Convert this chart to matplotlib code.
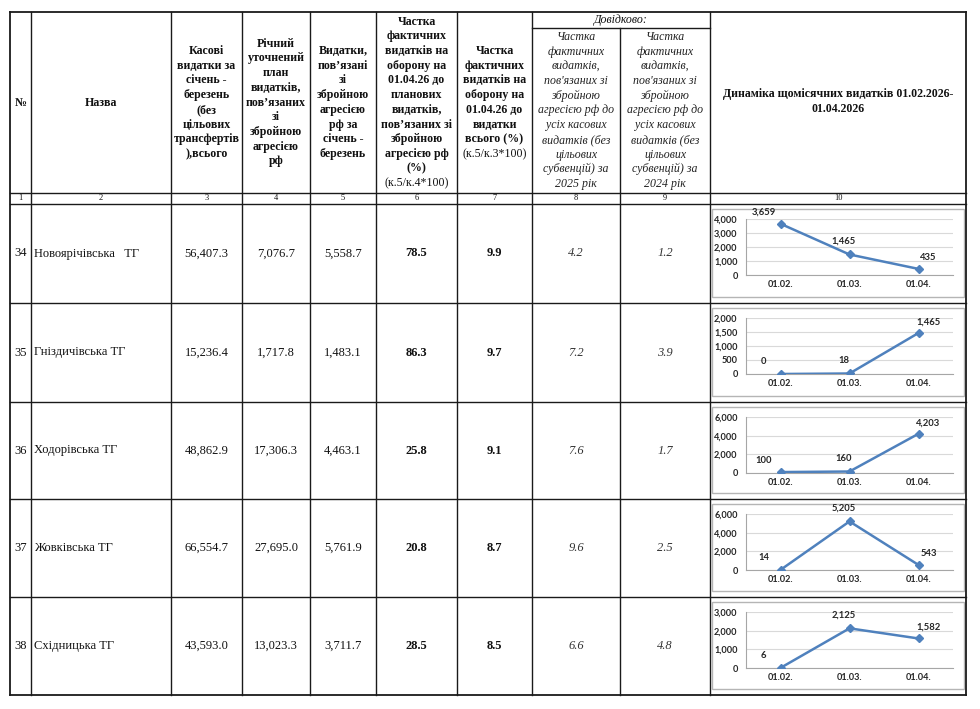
import matplotlib.pyplot as plt
from matplotlib.patches import Rectangle
from matplotlib.ticker import FuncFormatter, MultipleLocator

# дані таблиці
nums = ['34', '35', '36', '37', '38']
names = ['Новоярічівська   ТГ', 'Гніздичівська ТГ', 'Ходорівська ТГ', 'Жовківська ТГ', 'Східницька ТГ']
kasovi = [56407.3, 15236.4, 48862.9, 66554.7, 43593.0]
plan_oborona = [7076.7, 1717.8, 17306.3, 27695.0, 13023.3]
vydatky_oborona = [5558.7, 1483.1, 4463.1, 5761.9, 3711.7]
chastka_plan = [78.5, 86.3, 25.8, 20.8, 28.5]
chastka_vsogo = [9.9, 9.7, 9.1, 8.7, 8.5]
chastka_2025 = [4.2, 7.2, 7.6, 9.6, 6.6]
chastka_2024 = [1.2, 3.9, 1.7, 2.5, 4.8]

# щомісячні видатки для графіків
months = ['01.02.', '01.03.', '01.04.']
monthly = [
    [3659, 1465, 435],
    [0, 18, 1465],
    [100, 160, 4203],
    [14, 5205, 543],
    [6, 2125, 1582],
]
y_max = [4000, 2000, 6000, 6000, 3000]
y_step = [1000, 500, 2000, 2000, 1000]

W, H = 980, 709
col_x = [10, 31, 171, 242, 310, 376, 457, 532, 620, 710, 966]
row_y = [12, 193, 204, 303, 402, 499, 597, 695]
dovid_y = 28
SERIF = 'Liberation Serif'
LINE = '#4f81bd'
HDR = 8.6

fig = plt.figure(figsize=(W / 100, H / 100), dpi=100)
ax = fig.add_axes([0, 0, 1, 1])
ax.set_xlim(0, W)
ax.set_ylim(H, 0)
ax.axis('off')

# сітка таблиці
for y in row_y:
    lw = 1.3 if y in (row_y[0], row_y[-1]) else 1.0
    ax.plot([col_x[0], col_x[-1]], [y, y], color='#1a1a1a', lw=lw)
ax.plot([col_x[7], col_x[9]], [dovid_y, dovid_y], color='#1a1a1a', lw=1.0)
for i, x in enumerate(col_x):
    lw = 1.3 if i in (0, len(col_x) - 1) else 1.0
    top = dovid_y if i == 8 else row_y[0]
    ax.plot([x, x], [top, row_y[-1]], color='#1a1a1a', lw=lw)


def put_lines(x, yc, lines, size=HDR, spacing=14.7, style='normal', color='#111111'):
    n = len(lines)
    for i, (txt, wt) in enumerate(lines):
        y = yc + (i - (n - 1) / 2) * spacing
        ax.text(x, y, txt, ha='center', va='center', fontsize=size, fontweight=wt,
                fontstyle=style, family=SERIF, color=color)


def mid(i):
    return (col_x[i] + col_x[i + 1]) / 2


B, N = 'bold', 'normal'
yc = (row_y[0] + row_y[1]) / 2
put_lines(mid(0), yc, [('№', B)])
put_lines(mid(1), yc, [('Назва', B)])
put_lines(mid(2), yc, [(t, B) for t in ['Касові', 'видатки за', 'січень -', 'березень', '(без',
                                         'цільових', 'трансфертів', '),всього']])
put_lines(mid(3), yc, [(t, B) for t in ['Річний', 'уточнений', 'план', 'видатків,', 'пов’язаних',
                                         'зі', 'збройною', 'агресією', 'рф']])
put_lines(mid(4), yc, [(t, B) for t in ['Видатки,', 'пов’язані', 'зі', 'збройною', 'агресією',
                                         'рф за', 'січень -', 'березень']])
put_lines(mid(5), yc, [(t, B) for t in ['Частка', 'фактичних', 'видатків на', 'оборону на',
                                         '01.04.26 до', 'планових', 'видатків,', 'пов’язаних зі',
                                         'збройною', 'агресією рф', '(%)']] + [('(к.5/к.4*100)', N)])
put_lines(mid(6), yc, [(t, B) for t in ['Частка', 'фактичних', 'видатків на', 'оборону на',
                                         '01.04.26 до', 'видатки', 'всього (%)']] + [('(к.5/к.3*100)', N)])
put_lines((col_x[7] + col_x[9]) / 2, (row_y[0] + dovid_y) / 2, [('Довідково:', N)], style='italic')
yc2 = (dovid_y + row_y[1]) / 2
for ci, yr in ((7, '2025 рік'), (8, '2024 рік')):
    put_lines(mid(ci), yc2, [(t, N) for t in ['Частка', 'фактичних', 'видатків,', "пов'язаних зі",
                                               'збройною', 'агресією рф до', 'усіх касових',
                                               'видатків (без', 'цільових', 'субвенцій) за', yr]],
              style='italic', color='#222222')
put_lines(mid(9), yc - 1, [('Динаміка щомісячних видатків 01.02.2026-', B), ('01.04.2026', B)],
          spacing=16)

# рядок з номерами колонок
for i in range(10):
    put_lines(mid(i), (row_y[1] + row_y[2]) / 2, [(str(i + 1), N)], size=6)

# рядки з даними
for r in range(len(nums)):
    y0, y1 = row_y[2 + r], row_y[3 + r]
    yc = (y0 + y1) / 2
    put_lines(mid(0), yc, [(nums[r], N)], size=9)
    ax.text(col_x[1] + 3, yc, names[r], ha='left', va='center', fontsize=9, family=SERIF, color='#111111')
    put_lines(mid(2), yc, [(f'{kasovi[r]:,.1f}', N)], size=9)
    put_lines(mid(3), yc, [(f'{plan_oborona[r]:,.1f}', N)], size=9)
    put_lines(mid(4), yc, [(f'{vydatky_oborona[r]:,.1f}', N)], size=9)
    put_lines(mid(5), yc, [(f'{chastka_plan[r]:.1f}', B)], size=9)
    put_lines(mid(6), yc, [(f'{chastka_vsogo[r]:.1f}', B)], size=9)
    put_lines(mid(7), yc, [(f'{chastka_2025[r]:.1f}', N)], size=9, style='italic', color='#333333')
    put_lines(mid(8), yc, [(f'{chastka_2024[r]:.1f}', N)], size=9, style='italic', color='#333333')

    # міні-графік
    ft, fb = y0 + 5, y1 - 6
    ax.add_patch(Rectangle((712, ft), 252, fb - ft, facecolor='white', edgecolor='#b5b5b5', lw=1.0))
    px0, px1 = 746, 953
    pt, pb = ft + 10, ft + 66
    cax = fig.add_axes([px0 / W, 1 - pb / H, (px1 - px0) / W, (pb - pt) / H])
    cax.set_facecolor('none')
    vals = monthly[r]
    cax.plot(range(len(months)), vals, color=LINE, lw=1.8, marker='D', ms=3.8, zorder=3)
    cax.set_xlim(-0.5, len(months) - 0.5)
    cax.set_ylim(0, y_max[r])
    cax.yaxis.set_major_locator(MultipleLocator(y_step[r]))
    cax.yaxis.set_major_formatter(FuncFormatter(lambda v, p: f'{v:,.0f}'))
    cax.set_xticks(range(len(months)))
    cax.set_xticklabels(months)
    cax.yaxis.grid(True, color='#d9d9d9', lw=0.8)
    cax.set_axisbelow(True)
    for s in ('top', 'right'):
        cax.spines[s].set_visible(False)
    for s in ('left', 'bottom'):
        cax.spines[s].set_color('#a6a6a6')
        cax.spines[s].set_linewidth(0.8)
    cax.tick_params(axis='y', length=0, pad=6, labelsize=6.6, labelcolor='#262626')
    cax.tick_params(axis='x', length=0, pad=3.5, labelsize=6.6, labelcolor='#262626')
    for lab in cax.get_xticklabels() + cax.get_yticklabels():
        lab.set_fontfamily('Lato')
        lab.set_fontweight('bold')
    for k, v in enumerate(vals):
        dx = [-17, -6, 10][k]
        dy = [12, 13, 11][k]
        cax.annotate(f'{v:,}', (k, v), xytext=(dx, dy), textcoords='offset pixels',
                     ha='center', va='center', fontsize=6.8, fontweight='bold',
                     family='Lato', color='#262626')

fig.savefig('out.png', dpi=100)
